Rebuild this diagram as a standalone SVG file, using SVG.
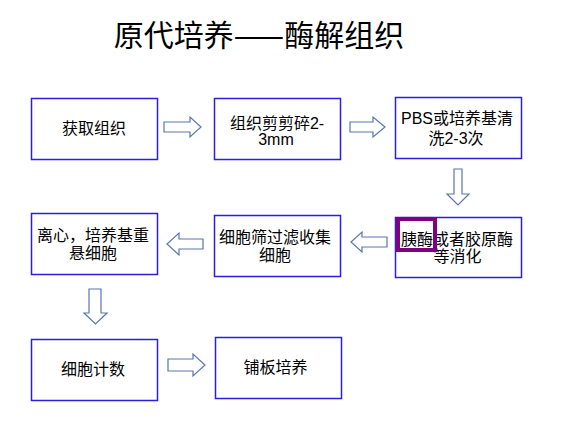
<svg xmlns="http://www.w3.org/2000/svg" width="573" height="421" viewBox="0 0 573 421">
<style>
.box{fill:#ffffff;stroke:#2b1fe0;stroke-width:1.5}
.arr{fill:#ffffff;stroke:#5a76ad;stroke-width:1.2;stroke-linejoin:miter}
.t{font-family:"Liberation Sans","Noto Sans CJK SC",sans-serif;font-size:16px;fill:#000;text-anchor:middle}
.title{font-family:"Noto Sans CJK SC",sans-serif;font-size:30px;fill:#000;text-anchor:middle}
</style>
<rect width="573" height="421" fill="#ffffff"/>
<text class="title" x="259" y="46">原代培养——酶解组织</text>
<g id="connectors">
<polygon class="arr" points="164,122 190,122 190,117 201,127 190,137 190,132 164,132"/>
<polygon class="arr" points="350,122 373,122 373,117 385,127 373,137 373,132 350,132"/>
<polygon class="arr" points="454,169 462,169 462,194 469,194 458,205 447,194 454,194"/>
<polygon class="arr" points="387,237 362,237 362,232 351,242 362,252 362,247 387,247"/>
<polygon class="arr" points="203,239 179,239 179,233 167,244 179,255 179,249 203,249"/>
<polygon class="arr" points="89,289 101,289 101,313 107,313 95.5,324 84,313 89,313"/>
<polygon class="arr" points="168,359 193,359 193,354 205,365 193,376 193,371 168,371"/>
</g>
<g id="n1"><rect class="box" x="31.5" y="98.5" width="126" height="61"/><text class="t" x="94" y="134">获取组织</text></g>
<g id="n2"><rect class="box" x="214.5" y="98.5" width="126" height="61"/><text class="t" x="277" y="129">组织剪剪碎2-</text><text class="t" x="276" y="145">3mm</text></g>
<g id="n3"><rect class="box" x="395.5" y="97.5" width="126" height="61"/><text class="t" x="457" y="124">PBS或培养基清</text><text class="t" x="456" y="144">洗2-3次</text></g>
<g id="n4"><rect class="box" x="395.5" y="217.5" width="126" height="60"/><text class="t" x="457" y="245">胰酶或者胶原酶</text><text class="t" x="457.5" y="261.5">等消化</text><rect x="398" y="219" width="37" height="31" fill="none" stroke="#800080" stroke-width="4"/></g>
<g id="n5"><rect class="box" x="214.5" y="215.5" width="126" height="61"/><text class="t" x="275" y="243">细胞筛过滤收集</text><text class="t" x="275" y="261">细胞</text></g>
<g id="n6"><rect class="box" x="31.5" y="213.5" width="126" height="61"/><text class="t" x="93" y="241">离心，培养基重</text><text class="t" x="93" y="259">悬细胞</text></g>
<g id="n7"><rect class="box" x="31.5" y="339.5" width="126" height="61"/><text class="t" x="93" y="375">细胞计数</text></g>
<g id="n8"><rect class="box" x="215.5" y="337.5" width="126" height="61"/><text class="t" x="275.5" y="373">铺板培养</text></g>
</svg>
